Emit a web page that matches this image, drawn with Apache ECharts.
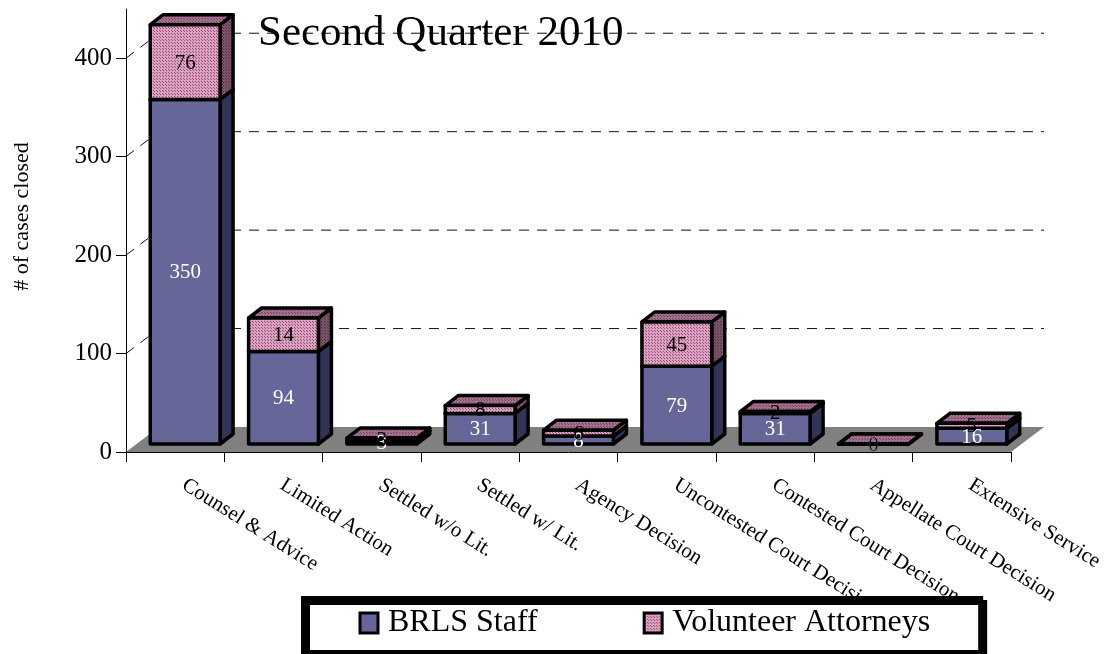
<!DOCTYPE html>
<html>
<head>
<meta charset="utf-8">
<style>html,body{margin:0;padding:0;background:#fff}#c{width:1105px;height:654px}</style>
<script src="https://cdn.jsdelivr.net/npm/echarts@6/dist/echarts.min.js"></script>
</head>
<body>
<div id="c"></div>
<script>
const titleText = 'Second Quarter 2010';
const axisName = '# of cases closed';
const categories = ['Counsel & Advice','Limited Action','Settled w/o Lit.','Settled w/ Lit.','Agency Decision','Uncontested Court Decision','Contested Court Decision','Appellate Court Decision','Extensive Service'];
const brlsStaff = [350,94,3,31,8,79,31,0,16];
// Heights as drawn in the picture (the second bar is drawn taller than its printed label says).
const volunteerAttorneys = [76,34,3,8,6,45,2,0,5];
const volunteerLabels = [76,14,3,8,6,45,2,0,5];
const yTicks = [0,100,200,300,400];
const wallLines = [100,200,300,400];

const SERIF = '"Liberation Serif","Times New Roman",serif';
const floorD = [33,-25], barOff = [10,-8], barD = [13,-10], barFrac = 0.71;

function tile(bg, dot){
  const c = document.createElement('canvas'); c.width = 3; c.height = 3;
  const g = c.getContext('2d');
  g.fillStyle = bg; g.fillRect(0,0,3,3);
  g.fillStyle = dot; g.fillRect(0,0,1,1); g.fillRect(1,1,1,1);
  return {image:c, repeat:'repeat'};
}
const staffFill = {front:'#666699', side:'#333358', top:'#4d4d80'};
const volFill = {
  front: tile('#e0a0c0','#85507a'),
  side: tile('#7c5468','#543246'),
  top: tile('#a4708e','#6f4260')
};

function barRenderer(fills, labelColor){
  return function(params, api){
    const i = api.value(0), from = api.value(1), to = api.value(2);
    const w = api.size([1,0])[0] * barFrac;
    const a = api.coord([i, from]), b = api.coord([i, to]);
    const x0 = a[0] - w/2 + barOff[0], x1 = x0 + w;
    const y0 = a[1] + barOff[1], y1 = b[1] + barOff[1];
    const dx = barD[0], dy = barD[1];
    const st = f => ({fill:f, stroke:'#000', lineWidth:3.5, lineJoin:'round'});
    return {type:'group', silent:true, children:[
      {type:'polygon', shape:{points:[[x1,y0],[x1+dx,y0+dy],[x1+dx,y1+dy],[x1,y1]]}, style:st(fills.side)},
      {type:'polygon', shape:{points:[[x0,y1],[x1,y1],[x1+dx,y1+dy],[x0+dx,y1+dy]]}, style:st(fills.top)},
      {type:'polygon', shape:{points:[[x0,y0],[x1,y0],[x1,y1],[x0,y1]]}, style:st(fills.front)},
      {type:'text', z2:100, x:(x0+x1)/2, y:(y0+y1)/2+1, style:{text:String(api.value(3)), fill:labelColor, font:'21px '+SERIF, textAlign:'center', textVerticalAlign:'middle'}}
    ]};
  };
}
function floorRenderer(params, api){
  const band = api.size([1,0])[0];
  const l = api.coord([0,0])[0] - band/2, r = api.coord([categories.length-1,0])[0] + band/2;
  const y = api.coord([0,0])[1];
  return {type:'polygon', silent:true, shape:{points:[[l,y],[r,y],[r+floorD[0],y+floorD[1]],[l+floorD[0],y+floorD[1]]]}, style:{fill:'#808080'}};
}
function wallRenderer(params, api){
  const band = api.size([1,0])[0];
  const l = api.coord([0,0])[0] - band/2, r = api.coord([categories.length-1,0])[0] + band/2;
  const y = api.coord([0,api.value(1)])[1];
  const st = {stroke:'#111', lineWidth:1, lineDash:[10,8], fill:null};
  return {type:'group', silent:true, children:[
    {type:'line', shape:{x1:l, y1:y, x2:l+floorD[0], y2:y+floorD[1]}, style:st},
    {type:'line', shape:{x1:l+floorD[0], y1:y+floorD[1], x2:r+floorD[0], y2:y+floorD[1]}, style:st}
  ]};
}

const chart = echarts.init(document.getElementById('c'), null, {renderer:'canvas'});
chart.setOption({
  animation:false,
  backgroundColor:'#fff',
  textStyle:{fontFamily:SERIF},
  title:{text:titleText, left:258, top:12, padding:0, textStyle:{fontFamily:SERIF, fontSize:43, fontWeight:'normal', color:'#000'}},
  legend:{
    data:['BRLS Staff','Volunteer Attorneys'],
    left:303.5, top:598.5,
    padding:[8.5,50.5,13.5,55],
    itemGap:105, itemWidth:18, itemHeight:20,
    backgroundColor:'#fff', borderColor:'#000', borderWidth:5,
    shadowColor:'#000', shadowOffsetX:4, shadowOffsetY:4, shadowBlur:0,
    itemStyle:{borderColor:'#000', borderWidth:3},
    textStyle:{fontFamily:SERIF, fontSize:32, color:'#000', padding:[0,0,0,5]},
    selectedMode:false,
    icon:'rect'
  },
  grid:{left:126, width:885, top:9, height:443, outerBoundsMode:'none'},
  xAxis:{
    type:'category', data:categories,
    axisLine:{lineStyle:{color:'#000', width:1}},
    axisTick:{show:true, length:10, lineStyle:{color:'#000'}},
    axisLabel:{interval:0, rotate:-32, margin:26, padding:[0,0,0,10], fontFamily:SERIF, fontSize:21, color:'#000', hideOverlap:false},
    splitLine:{show:false}
  },
  yAxis:{
    type:'value', min:0, max:450, interval:100,
    name:axisName, nameLocation:'middle', nameRotate:90, nameGap:93,
    nameTextStyle:{fontFamily:SERIF, fontSize:22, color:'#000', padding:[0,0,0,28]},
    axisLine:{show:true, lineStyle:{color:'#000', width:1}},
    axisTick:{show:true, length:10, lineStyle:{color:'#000'}, customValues:yTicks},
    axisLabel:{margin:14, fontFamily:SERIF, fontSize:25, color:'#000', customValues:yTicks},
    splitLine:{show:false}
  },
  series:[
    {type:'custom', name:'floor', z:-1, silent:true, clip:false, renderItem:floorRenderer, data:[[0,0]], encode:{x:0,y:1}},
    {type:'custom', name:'wall', z:-1, silent:true, clip:false, renderItem:wallRenderer, data:wallLines.map(v=>[0,v]), encode:{x:0,y:1}},
    {type:'custom', name:'BRLS Staff', clip:false, renderItem:barRenderer(staffFill,'#fff'),
      itemStyle:{color:staffFill.front},
      data:brlsStaff.map((v,i)=>[i,0,v,v]), encode:{x:0,y:[1,2]}},
    {type:'custom', name:'Volunteer Attorneys', clip:false, renderItem:barRenderer(volFill,'#000'),
      itemStyle:{color:volFill.front},
      data:volunteerAttorneys.map((v,i)=>[i,brlsStaff[i],brlsStaff[i]+v,volunteerLabels[i]]), encode:{x:0,y:[1,2]}}
  ]
});
</script>
</body>
</html>
